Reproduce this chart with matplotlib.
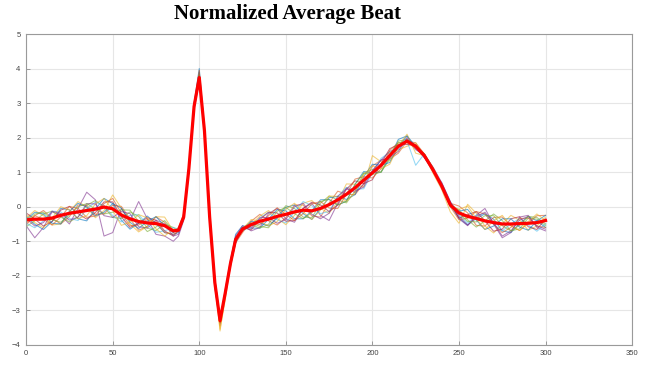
import matplotlib
matplotlib.use("Agg")
import matplotlib.pyplot as plt

# sample positions (finer around the QRS complex)
x = [0, 5, 10, 15, 20, 25, 30, 35, 40, 45, 50, 55, 60, 65, 70, 75, 80, 85,
     88, 91, 94, 97, 100, 103, 106, 109, 112, 115, 118, 121, 125,
     130, 135, 140, 145, 150, 155, 160, 165, 170, 175, 180, 185, 190, 195, 200,
     205, 210, 215, 220, 225, 230, 235, 240, 245, 250, 255, 260, 265, 270, 275,
     280, 285, 290, 295, 300]

# average beat (red)
avg_beat = [-0.38, -0.36, -0.36, -0.33, -0.25, -0.19, -0.15, -0.11, -0.07, -0.01, -0.06, -0.24, -0.35, -0.43, -0.47, -0.49, -0.55, -0.70,
            -0.68, -0.30, 1.10, 2.90, 3.74, 2.20, -0.30, -2.20, -3.30, -2.50, -1.65, -0.95, -0.65,
            -0.52, -0.42, -0.36, -0.28, -0.22, -0.15, -0.10, -0.12, -0.05, 0.06, 0.20, 0.36, 0.55, 0.77, 0.98,
            1.20, 1.48, 1.75, 1.90, 1.75, 1.48, 1.07, 0.60, 0.05, -0.18, -0.28, -0.34, -0.41, -0.46, -0.50,
            -0.50, -0.49, -0.48, -0.46, -0.40]

# individual normalized beats
beat_01 = [-0.28, -0.51, -0.66, -0.43, -0.05, -0.09, -0.35, -0.41, -0.07, 0.24, 0.09, -0.39, -0.65, -0.48, -0.27, -0.49, -0.75, -0.80,
           -0.75, -0.35, 1.05, 2.95, 3.90, 2.10, -0.40, -2.30, -3.40, -2.55, -1.60, -0.80, -0.55,
           -0.62, -0.62, -0.36, -0.08, -0.12, -0.35, -0.35, -0.12, 0.20, 0.21, 0.05, 0.16, 0.65, 1.02, 0.98,
           1.00, 1.43, 1.95, 2.05, 1.70, 1.43, 1.07, 0.65, 0.05, -0.33, -0.53, -0.34, -0.21, -0.36, -0.70,
           -0.75, -0.49, -0.28, -0.41, -0.60]
beat_02 = [-0.53, -0.26, -0.11, -0.33, -0.50, -0.29, 0.05, 0.04, -0.22, -0.21, 0.04, 0.01, -0.35, -0.68, -0.57, -0.29, -0.45, -0.75,
           -0.60, -0.20, 1.20, 3.00, 3.80, 2.30, -0.20, -2.10, -3.25, -2.45, -1.70, -1.05, -0.75,
           -0.42, -0.22, -0.41, -0.53, -0.32, 0.05, 0.05, -0.27, -0.30, 0.11, 0.45, 0.36, 0.35, 0.67, 1.18,
           1.35, 1.38, 1.55, 1.90, 1.85, 1.53, 1.02, 0.60, 0.10, 0.02, -0.18, -0.54, -0.56, -0.31, -0.30,
           -0.55, -0.69, -0.48, -0.26, -0.25]
beat_03 = [-0.33, -0.11, -0.26, -0.53, -0.50, -0.14, 0.15, -0.01, -0.32, -0.11, 0.34, -0.04, -0.50, -0.73, -0.57, -0.29, -0.30, -0.70,
           -0.70, -0.30, 1.15, 2.90, 3.70, 2.40, -0.10, -2.20, -3.55, -2.70, -1.70, -1.00, -0.70,
           -0.52, -0.27, -0.11, -0.33, -0.52, -0.25, 0.10, 0.18, -0.05, -0.19, 0.15, 0.66, 0.65, 0.57, 1.48,
           1.30, 1.33, 1.65, 1.75, 1.85, 1.48, 0.97, 0.50, -0.15, -0.48, 0.07, -0.19, -0.56, -0.76, -0.50,
           -0.25, -0.39, -0.68, -0.56, -0.30]
beat_04 = [-0.55, -0.90, -0.60, -0.15, -0.25, -0.50, -0.05, 0.42, 0.20, -0.85, -0.75, -0.05, -0.40, 0.15, -0.35, -0.80, -0.85, -1.00,
           -0.85, -0.40, 1.00, 2.80, 3.65, 2.15, -0.45, -2.35, -3.35, -2.40, -1.55, -0.85, -0.55,
           -0.70, -0.60, -0.20, -0.05, -0.35, -0.45, -0.05, 0.10, -0.25, -0.40, 0.10, 0.55, 0.40, 0.65, 1.05,
           1.35, 1.60, 1.70, 1.95, 1.65, 1.50, 1.15, 0.70, 0.15, -0.35, -0.55, -0.25, -0.05, -0.50, -0.90,
           -0.75, -0.30, -0.25, -0.60, -0.70]
beat_05 = [-0.58, -0.41, -0.21, -0.13, -0.30, -0.44, -0.30, 0.04, 0.18, -0.01, -0.31, -0.34, -0.15, -0.28, -0.62, -0.69, -0.50, -0.60,
           -0.70, -0.30, 1.10, 2.90, 3.85, 2.20, -0.30, -2.15, -3.20, -2.50, -1.75, -1.00, -0.60,
           -0.47, -0.57, -0.61, -0.28, 0.03, -0.05, -0.30, -0.32, 0.10, 0.31, 0.20, 0.11, 0.45, 0.97, 1.08,
           1.00, 1.38, 1.90, 1.95, 1.75, 1.53, 1.12, 0.55, 0.00, -0.08, -0.38, -0.59, -0.41, -0.21, -0.40,
           -0.70, -0.64, -0.33, -0.36, -0.55]
beat_06 = [-0.48, -0.61, -0.41, -0.13, -0.15, -0.34, -0.40, -0.06, 0.13, 0.04, -0.26, -0.44, -0.25, -0.23, -0.52, -0.74, -0.70, -0.60,
           -0.65, -0.25, 1.15, 2.95, 3.75, 2.25, -0.25, -2.25, -3.30, -2.45, -1.60, -0.95, -0.70,
           -0.57, -0.32, -0.16, -0.38, -0.47, -0.15, 0.15, 0.03, -0.20, -0.14, 0.30, 0.56, 0.50, 0.52, 0.98,
           1.40, 1.58, 1.65, 1.90, 1.20, 1.53, 1.12, 0.55, 0.00, -0.23, -0.48, -0.24, -0.21, -0.51, -0.70,
           -0.50, -0.34, -0.53, -0.71, -0.50]
beat_07 = [-0.18, -0.36, -0.56, -0.43, -0.10, 0.01, -0.20, -0.36, -0.17, 0.14, 0.14, -0.29, -0.60, -0.48, -0.32, -0.39, -0.70, -0.85,
           -0.70, -0.35, 1.05, 2.85, 3.80, 2.15, -0.35, -2.25, -3.35, -2.55, -1.65, -0.90, -0.60,
           -0.67, -0.37, -0.16, -0.18, -0.42, -0.40, -0.05, 0.13, 0.05, -0.14, 0.05, 0.51, 0.75, 0.67, 0.78,
           1.25, 1.68, 1.80, 1.80, 1.80, 1.43, 1.07, 0.65, 0.10, -0.33, -0.23, -0.14, -0.41, -0.71, -0.65,
           -0.35, -0.29, -0.58, -0.66, -0.35]
beat_08 = [-0.38, -0.16, -0.21, -0.48, -0.50, -0.14, 0.10, -0.01, -0.27, -0.16, 0.09, -0.04, -0.45, -0.63, -0.42, -0.29, -0.55, -0.75,
           -0.65, -0.25, 1.20, 3.00, 4.00, 2.25, -0.25, -2.10, -3.25, -2.60, -1.70, -1.05, -0.65,
           -0.42, -0.47, -0.56, -0.33, -0.02, 0.05, -0.20, -0.37, -0.05, 0.26, 0.30, 0.21, 0.35, 0.87, 1.23,
           1.20, 1.28, 1.75, 2.05, 1.75, 1.43, 1.07, 0.65, 0.10, -0.13, -0.08, -0.39, -0.66, -0.56, -0.35,
           -0.35, -0.59, -0.68, -0.41, -0.25]
beat_09 = [-0.48, -0.26, -0.36, -0.53, -0.30, 0.01, -0.05, -0.31, -0.27, 0.09, 0.24, -0.19, -0.55, -0.53, -0.37, -0.44, -0.75, -0.80,
           -0.70, -0.30, 1.10, 2.90, 3.95, 2.20, -0.30, -2.20, -3.45, -2.50, -1.60, -0.95, -0.70,
           -0.47, -0.52, -0.26, -0.03, -0.22, -0.40, -0.20, 0.08, 0.15, -0.04, -0.05, 0.36, 0.80, 0.87, 0.83,
           1.10, 1.63, 1.85, 1.85, 1.70, 1.53, 1.02, 0.60, 0.00, -0.38, -0.33, -0.14, -0.21, -0.51, -0.75,
           -0.60, -0.34, -0.33, -0.56, -0.60]
beat_10 = [-0.23, -0.46, -0.61, -0.33, 0.00, -0.09, -0.35, -0.26, 0.08, 0.24, -0.11, -0.54, -0.45, -0.23, -0.32, -0.64, -0.85, -0.65,
           -0.65, -0.30, 1.10, 2.95, 3.60, 2.25, -0.25, -2.20, -3.60, -2.60, -1.60, -0.95, -0.65,
           -0.37, -0.42, -0.56, -0.43, -0.07, 0.10, -0.15, -0.37, -0.10, 0.31, 0.30, 0.16, 0.40, 0.92, 1.18,
           1.10, 1.23, 1.75, 2.10, 1.55, 1.48, 1.12, 0.60, 0.05, -0.08, 0.02, -0.34, -0.66, -0.41, -0.25,
           -0.55, -0.69, -0.43, -0.21, -0.40]
beat_11 = [-0.33, -0.56, -0.46, -0.13, -0.20, -0.39, -0.30, 0.09, 0.08, -0.26, -0.31, -0.14, -0.20, -0.58, -0.62, -0.39, -0.50, -0.85,
           -0.80, -0.35, 1.05, 2.85, 3.70, 2.15, -0.35, -2.25, -3.30, -2.45, -1.60, -0.90, -0.60,
           -0.62, -0.32, -0.31, -0.48, -0.37, 0.00, 0.10, -0.22, -0.35, -0.19, 0.30, 0.51, 0.45, 0.57, 1.03,
           1.35, 1.43, 1.60, 2.00, 1.70, 1.43, 1.02, 0.70, 0.15, -0.28, -0.53, -0.29, -0.16, -0.46, -0.85,
           -0.70, -0.39, -0.28, -0.56, -0.65]
beat_12 = [-0.43, -0.21, -0.16, -0.38, -0.45, -0.24, 0.00, 0.09, -0.07, -0.21, -0.16, -0.09, -0.10, -0.43, -0.72, -0.59, -0.40, -0.70,
           -0.65, -0.25, 1.15, 2.95, 3.80, 2.25, -0.25, -2.15, -3.25, -2.50, -1.70, -1.00, -0.65,
           -0.52, -0.62, -0.51, -0.13, -0.02, -0.20, -0.35, -0.17, 0.15, 0.21, 0.05, 0.16, 0.65, 0.97, 0.93,
           1.00, 1.53, 1.85, 1.90, 1.75, 1.53, 1.12, 0.60, 0.05, -0.18, -0.43, -0.44, -0.26, -0.26, -0.55,
           -0.70, -0.54, -0.28, -0.31, -0.50]

beats = [beat_01, beat_02, beat_03, beat_04, beat_05, beat_06,
         beat_07, beat_08, beat_09, beat_10, beat_11, beat_12]

# matlab default line colours
matlab_colors = ['#0072BD', '#D95319', '#EDB120', '#7E2F8E', '#77AC30', '#4DBEEE', '#A2142F']

x_ticks = [0, 50, 100, 150, 200, 250, 300, 350]
y_ticks = [-4, -3, -2, -1, 0, 1, 2, 3, 4, 5]

plt.rcParams['font.family'] = ['Liberation Sans', 'DejaVu Sans']

fig = plt.figure(figsize=(6.53, 3.70), dpi=100)
ax = fig.add_axes([0.040, 0.068, 0.928, 0.840])

for i, b in enumerate(beats):
    ax.plot(x, b, color=matlab_colors[i % len(matlab_colors)], linewidth=0.75, alpha=0.6)
ax.plot(x, avg_beat, color='#FF0000', linewidth=2.3, solid_joinstyle='round')

ax.set_xlim(0, 350)
ax.set_ylim(-4, 5)
ax.set_xticks(x_ticks)
ax.set_yticks(y_ticks)
ax.grid(True, color='#E6E6E6', linewidth=0.8)
ax.set_axisbelow(True)
ax.tick_params(direction='in', length=3, width=0.6, colors='#8C8C8C',
               labelsize=5.5, labelcolor='#444444', pad=4)
for s in ax.spines.values():
    s.set_color('#9A9A9A')
    s.set_linewidth(0.8)

fig.text(0.44, 0.962, 'Normalized Average Beat', ha='center', va='center',
         family='Liberation Serif', weight='bold', fontsize=15)

fig.savefig('out.png', dpi=100)
